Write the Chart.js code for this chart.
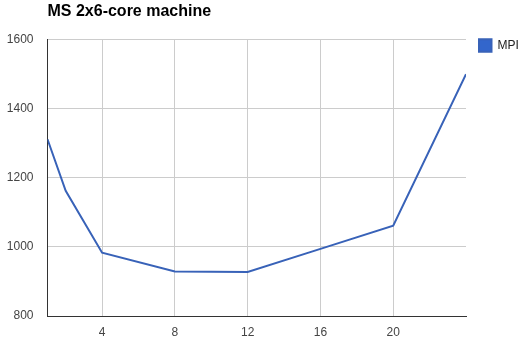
<!DOCTYPE html>
<html>
<head>
<meta charset="utf-8">
<script src="https://cdn.jsdelivr.net/npm/chart.js@4.4.1/dist/chart.umd.min.js"></script>
<style>
  html, body { margin: 0; padding: 0; background: #fff; }
  #wrap { width: 528px; height: 346px; }
</style>
</head>
<body>
<div id="wrap"><canvas id="mycanvas" width="528" height="346"></canvas></div>
<script>
// data
var threads = [1, 2, 4, 8, 12, 16, 20, 24];
var mpiTimes = [1311, 1162, 983, 929, 927, 994, 1061, 1499];
var xTickValues = [4, 8, 12, 16, 20];
var seriesName = 'MPI';
var chartTitle = 'MS 2x6-core machine';

var points = [];
for (var i in threads) {
  points.push({ x: threads[i], y: mpiTimes[i] });
}

// nudge title and legend into the places the original uses
var nudge = {
  id: 'nudge',
  afterInit: function(chart) {
    var fit = chart.legend.fit;
    chart.legend.fit = function() {
      fit.call(this);
      this.width = 62;
    };
  },
  afterLayout: function(chart) {
    chart.titleBlock.left += 47.5;
    chart.titleBlock.right += 47.5;
    chart.legend.top -= 13;
    chart.legend.bottom -= 13;
  }
};

var ctx = document.getElementById('mycanvas');
var lineGraph = new Chart(ctx, {
  type: 'line',
  data: {
    datasets: [{
      label: seriesName,
      data: points,
      borderColor: '#3862b8',
      backgroundColor: '#3366cc',
      borderWidth: 2,
      pointRadius: 0,
      tension: 0,
      fill: false
    }]
  },
  options: {
    responsive: false,
    animation: false,
    layout: { padding: 0 },
    plugins: {
      title: {
        display: true,
        text: chartTitle,
        align: 'start',
        color: '#000',
        font: { family: '"Liberation Sans", Arial, sans-serif', size: 16, weight: 'bold' },
        padding: { top: 1.5, bottom: 18.6 }
      },
      legend: {
        position: 'right',
        align: 'start',
        fullSize: false,
        labels: {
          boxWidth: 12.5,
          boxHeight: 12.5,
          padding: 13,
          color: '#222',
          font: { family: '"Liberation Sans", Arial, sans-serif', size: 12 }
        }
      },
      tooltip: { enabled: false }
    },
    scales: {
      x: {
        type: 'linear',
        min: 1,
        max: 24,
        afterBuildTicks: function(scale) {
          scale.ticks = xTickValues.map(function(v) { return { value: v }; });
        },
        afterFit: function(scale) { scale.height = 30; },
        grid: { color: '#cccccc', drawTicks: false },
        border: { color: '#333', width: 1 },
        ticks: {
          padding: 9,
          color: '#444',
          maxRotation: 0,
          callback: function(v) { return String(v); },
          font: { family: '"Liberation Sans", Arial, sans-serif', size: 12 }
        }
      },
      y: {
        min: 800,
        max: 1600,
        afterFit: function(scale) { scale.width = 47.5; },
        grid: { color: '#cccccc', drawTicks: false },
        border: { color: '#333', width: 1 },
        ticks: {
          stepSize: 200,
          padding: 14,
          color: '#444',
          callback: function(v) { return String(v); },
          font: { family: '"Liberation Sans", Arial, sans-serif', size: 12 }
        }
      }
    }
  },
  plugins: [nudge]
});
</script>
</body>
</html>
